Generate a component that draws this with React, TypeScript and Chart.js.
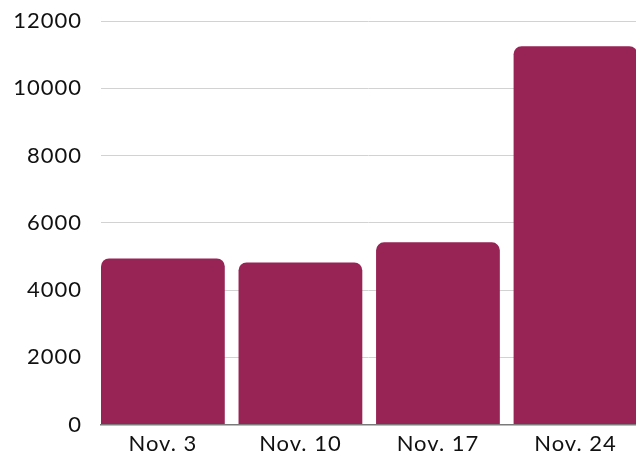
import React, { useEffect, useRef } from "react";
import { Chart, registerables } from "chart.js";

Chart.register(...registerables);

const categories = ["Nov. 3", "Nov. 10", "Nov. 17", "Nov. 24"];
const values = [4940, 4820, 5420, 11250];
const yTicks = [0, 2000, 4000, 6000, 8000, 10000, 12000];

const BAR_COLOR = "#982456";
const FONT = "Lato, 'DejaVu Sans', sans-serif";

const spacingPlugin = {
  id: "letterSpacing",
  beforeUpdate(chart: any) {
    chart.ctx.letterSpacing = "1px";
  },
  beforeDraw(chart: any) {
    chart.ctx.letterSpacing = "1px";
  },
};

export default function App() {
  const ref = useRef<HTMLCanvasElement | null>(null);

  useEffect(() => {
    if (!ref.current) return;
    const chart = new Chart(ref.current, {
      type: "bar",
      plugins: [spacingPlugin],
      data: {
        datasets: [
          {
            data: values.map((v, i) => ({ x: i, y: v })),
            backgroundColor: BAR_COLOR,
            borderRadius: 8,
            borderSkipped: "start",
            barPercentage: 0.9,
            categoryPercentage: 1.0,
          },
        ],
      },
      options: {
        animation: false,
        responsive: false,
        maintainAspectRatio: false,
        layout: { padding: { top: 21, right: 0, bottom: 0, left: 0 } },
        plugins: { legend: { display: false }, tooltip: { enabled: false } },
        scales: {
          x: {
            type: "linear",
            offset: false,
            min: -0.45,
            max: 3.44,
            afterBuildTicks: (scale: any) => {
              scale.ticks = categories.map((_, i) => ({ value: i }));
            },
            grid: { display: false, drawTicks: false },
            border: { display: true, color: "#7a7a7a", width: 1.5 },
            ticks: {
              color: "#111",
              font: { family: FONT, size: 22 },
              padding: 6,
              maxRotation: 0,
              autoSkip: false,
              callback: (v: any) => categories[Math.round(Number(v))] ?? "",
            },
          },
          y: {
            min: 0,
            max: 12000,
            afterBuildTicks: (scale: any) => {
              scale.ticks = yTicks.map((v) => ({ value: v }));
            },
            afterFit: (scale: any) => {
              scale.width = 101;
              scale.paddingTop = 0;
              scale.paddingBottom = 0;
            },
            grid: { color: "#d2d2d2", lineWidth: 1, drawTicks: false },
            border: { display: false },
            ticks: {
              color: "#111",
              font: { family: FONT, size: 22 },
              padding: 19,
              callback: (v: any) => String(v),
            },
          },
        },
      },
    });
    return () => chart.destroy();
  }, []);

  return (
    <div
      style={{
        position: "fixed",
        left: 0,
        top: 0,
        width: 636,
        height: 455,
        overflow: "hidden",
        background: "#fff",
      }}
    >
      <canvas ref={ref} width={636} height={463} style={{ display: "block" }} />
    </div>
  );
}
